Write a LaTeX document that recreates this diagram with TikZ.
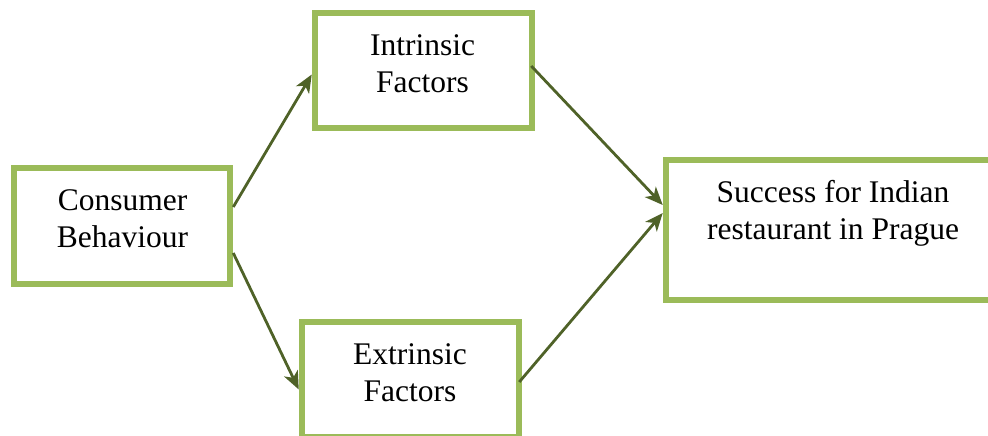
\documentclass[tikz,border=0pt]{standalone}
\usepackage{fontspec}
\setmainfont{Liberation Serif}
\usetikzlibrary{arrows.meta}
\definecolor{boxgreen}{HTML}{9BBB59}
\definecolor{arrowgreen}{HTML}{4F6228}
\tikzset{
  box/.style={draw=boxgreen, line width=6.5pt, fill=white, rectangle, inner sep=0pt},
  lbl/.style={align=center, anchor=base, inner sep=0pt, font=\fontsize{31.5}{37.5}\selectfont},
  conn/.style={draw=arrowgreen, line width=2.8pt, -{Stealth[length=18pt,width=15pt,inset=5pt]}}
}
\begin{document}
\begin{tikzpicture}[x=1pt,y=1pt]
\useasboundingbox (0,0) rectangle (988,436);
\node[box, minimum width=216pt, minimum height=116pt] (cons) at (122,210) {};
\node[box, minimum width=217pt, minimum height=115pt] (intr) at (423.5,365.5) {};
\node[box, minimum width=217pt, minimum height=115pt] (extr) at (410.5,56.5) {};
\node[box, minimum width=334pt, minimum height=140pt] (succ) at (833,206) {};
\node[lbl] (tcons) at (122.5,188) {Consumer\\Behaviour};
\node[lbl] (tintr) at (422.5,343) {Intrinsic\\Factors};
\node[lbl] (textr) at (410,34) {Extrinsic\\Factors};
\node[lbl] (tsucc) at (833,196) {Success for Indian\\restaurant in Prague};
\draw[conn] ([yshift=19pt]cons.east) -- ([yshift=-4pt]intr.west);
\draw[conn] ([yshift=-27pt]cons.east) -- ([yshift=-10pt]extr.west);
\draw[conn] ([xshift=-4pt,yshift=4.5pt]intr.east) -- ([yshift=25pt]succ.west);
\draw[conn] ([xshift=-3pt,yshift=-2.5pt]extr.east) -- ([yshift=17pt]succ.west);
\end{tikzpicture}
\end{document}
